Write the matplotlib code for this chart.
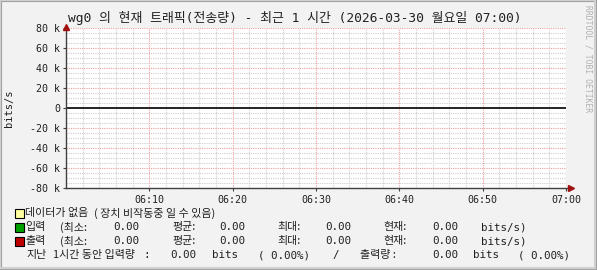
import re
import numpy as np
import matplotlib
matplotlib.use("Agg")
import matplotlib.pyplot as plt
from matplotlib.patches import Rectangle

plt.rcParams['font.family'] = ['DejaVu Sans Mono', 'Noto Sans CJK KR']

# data: minutes after 06:00, traffic in bits/s (all zero)
minutes = [0, 5, 10, 15, 20, 25, 30, 35, 40, 45, 50, 55, 60]
inbound = [0, 0, 0, 0, 0, 0, 0, 0, 0, 0, 0, 0, 0]
outbound = [0, 0, 0, 0, 0, 0, 0, 0, 0, 0, 0, 0, 0]
xticks = [10, 20, 30, 40, 50, 60]
xlabels = ["06:10", "06:20", "06:30", "06:40", "06:50", "07:00"]
yticks = [-80000, -60000, -40000, -20000, 0, 20000, 40000, 60000, 80000]
ylabels = ["-80 k", "-60 k", "-40 k", "-20 k", "0", "20 k", "40 k", "60 k", "80 k"]

title = "wg0 의 현재 트래픽(전송량) - 최근 1 시간 (2026-03-30 월요일 07:00)"

W, H = 597, 270
fig = plt.figure(figsize=(W / 100, H / 100), dpi=100, facecolor="#f2f2f2")

# 3d-ish frame
fig.patches.append(Rectangle((0, 0), 1, 1, transform=fig.transFigure, fill=False,
                             edgecolor="#a0a0a0", lw=3, zorder=-5))
fig.patches.append(Rectangle((0, 2 / H), 1 - 2 / W, 1 - 2 / H, transform=fig.transFigure,
                             fill=False, edgecolor="#d0d0d0", lw=1.5, zorder=-4))

ax = fig.add_axes([66 / W, 82 / H, 500 / W, 160 / H])
ax.set_facecolor("white")
ax.set_xlim(0, 60)
ax.set_ylim(-80000, 80000)

# grid
for m in range(2, 60, 2):
    if m % 10:
        ax.axvline(m, color="#cfcfcf", lw=0.8, ls=(0, (1, 1)), zorder=1)
for v in range(-75000, 80000, 5000):
    if v % 20000:
        ax.axhline(v, color="#cfcfcf", lw=0.8, ls=(0, (1, 1)), zorder=1)
for m in xticks:
    ax.axvline(m, color="#f0a0a0", lw=0.8, ls=(0, (1, 1)), zorder=1)
for v in yticks[1:]:
    if v != 0:
        ax.axhline(v, color="#f0a0a0", lw=0.8, ls=(0, (1, 1)), zorder=1)

ax.fill_between(minutes, 0, inbound, color="#00a000", lw=0, zorder=2)
ax.fill_between(minutes, 0, [-v for v in outbound], color="#c00000", lw=0, zorder=2)
ax.axhline(0, color="black", lw=1.2, zorder=3)

for s in ax.spines.values():
    s.set_visible(False)
ax.plot([0, 0], [-80000, 80000], color="#404040", lw=1, clip_on=False, zorder=4)
ax.plot([0, 60.5], [-80000, -80000], color="#404040", lw=1, clip_on=False, zorder=4)
ax.plot([60.6], [-80000], marker=">", color="#a01010", ms=4, clip_on=False, zorder=5)
ax.plot([0], [81500], marker="^", color="#a01010", ms=4, clip_on=False, zorder=5)

ax.set_xticks(xticks)
ax.set_xticklabels(xlabels)
ax.set_yticks(yticks)
ax.set_yticklabels(ylabels)
ax.tick_params(axis="both", labelsize=7.2, color="#404040", length=2, width=0.8,
               labelcolor="#202020", pad=2)
ax.tick_params(axis="x", pad=3)
ax.set_ylabel("bits/s", fontsize=7.5, color="#202020")
ax.yaxis.set_label_coords(-52 / 500, 0.5)

fig.text(295 / W, 1 - 18 / H, title, ha="center", va="center", fontsize=9.3, color="#202020")
fig.text(588 / W, 1 - 5 / H, "RRDTOOL / TOBI OETIKER", rotation=-90, ha="center", va="top",
         fontsize=5.8, color="#b0b0b0")

hangul = re.compile(r"[\uac00-\ud7a3]")


def row(y, items):
    for x, s in items:
        if hangul.search(s):
            fig.text(x / W, 1 - y / H, s, ha="left", va="center", fontsize=7.9,
                     color="#202020", family=["Noto Sans CJK KR", "DejaVu Sans"])
        else:
            fig.text(x / W, 1 - y / H, s, ha="left", va="center", fontsize=7.8,
                     color="#202020")


def box(y, color):
    fig.patches.append(Rectangle((15 / W, 1 - (y + 4.5) / H), 9 / W, 9 / H,
                                 transform=fig.transFigure, facecolor=color,
                                 edgecolor="black", lw=0.8))


box(213, "#ffffa0")
row(213, [(25, "데이터가 없음"), (94, "( 장치 비작동중 일 수 있음)")])
box(227, "#00a000")
row(227, [(25, "입력"), (60, "(최소:"), (113, "0.00"), (172, "평균:"), (219, "0.00"),
          (277, "최대:"), (325, "0.00"), (383, "현재:"), (432, "0.00"), (481, "bits/s)")])
box(241, "#c00000")
row(241, [(25, "출력"), (60, "(최소:"), (113, "0.00"), (172, "평균:"), (219, "0.00"),
          (277, "최대:"), (325, "0.00"), (383, "현재:"), (432, "0.00"), (481, "bits/s)")])
row(255, [(26, "지난"), (53, "1시간 동안 입력량"), (143, ":"), (170, "0.00"), (212, "bits"),
          (258, "( 0.00%)"), (332, "/"), (360, "출력량 :"), (432, "0.00"), (473, "bits"),
          (518, "( 0.00%)")])

fig.savefig("out.png", dpi=100, facecolor=fig.get_facecolor())
